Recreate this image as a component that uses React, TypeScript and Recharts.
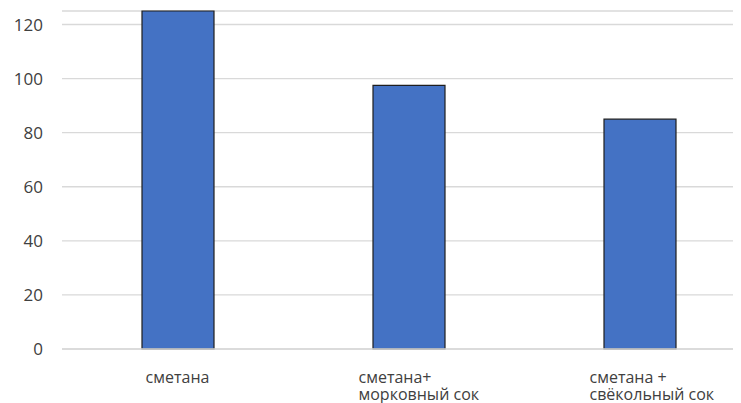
import { Bar, BarChart, CartesianGrid, XAxis, YAxis } from 'recharts';

const categories = ['сметана', 'сметана+\nморковный сок', 'сметана +\nсвёкольный сок'];
const values = [125, 97.5, 85];
const yTicks = [0, 20, 40, 60, 80, 100, 120];

const data = categories.map((name, i) => ({ name, value: values[i] }));

const FONT = '"Open Sans", sans-serif';

/** Category label; wrapped labels sit left-aligned like the Excel original. */
function CategoryTick({ x, y, payload }: any) {
  const lines = String(payload.value).split('\n');
  const multi = lines.length > 1;
  return (
    <text
      x={multi ? x - 50 : x}
      y={y}
      textAnchor={multi ? 'start' : 'middle'}
      fill="#404040"
      fontSize={16}
      fontFamily={FONT}
    >
      {lines.map((line, i) => (
        <tspan key={i} x={multi ? x - 50 : x} dy={i === 0 ? 26 : 17}>
          {line}
        </tspan>
      ))}
    </text>
  );
}

export default function App() {
  return (
    <div style={{ width: 733, height: 395, overflow: 'hidden' }}>
      <BarChart
        width={760}
        height={395}
        data={data}
        margin={{ top: 3, right: 13, bottom: 0, left: 0 }}
        barSize={72}
      >
        <CartesianGrid vertical={false} stroke="#d9d9d9" strokeWidth={1.3} />
        <XAxis
          dataKey="name"
          axisLine={{ stroke: '#d9d9d9', strokeWidth: 1.3 }}
          tickLine={false}
          height={54}
          interval={0}
          tick={<CategoryTick />}
        />
        <YAxis
          domain={[0, 125]}
          ticks={yTicks}
          width={54}
          axisLine={false}
          tickLine={false}
          tickSize={0}
          tickMargin={19}
          tick={{ fill: '#404040', fontSize: 17, fontFamily: FONT }}
        />
        <Bar dataKey="value" fill="#4472C4" stroke="#1e1e1e" strokeWidth={1.2} isAnimationActive={false} />
      </BarChart>
    </div>
  );
}
